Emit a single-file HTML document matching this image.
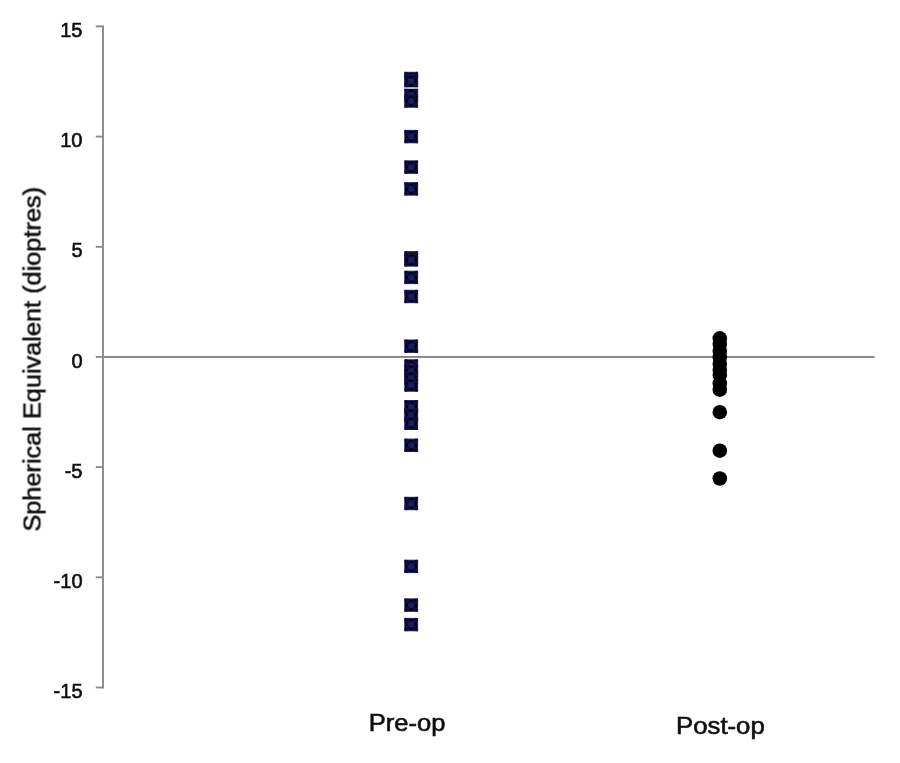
<!DOCTYPE html>
<html><head><meta charset="utf-8"><style>
html,body{margin:0;padding:0;background:#fff;}
body{width:900px;height:763px;overflow:hidden;}
svg{display:block;}
text{font-family:"Liberation Sans",sans-serif;fill:#111;stroke:#111;stroke-width:0.6px;}
</style></head><body>
<svg width="900" height="763" viewBox="0 0 900 763">
<defs>
<filter id="soft" x="-5%" y="-5%" width="110%" height="110%"><feGaussianBlur stdDeviation="0.4"/></filter>
<clipPath id="sqc"><rect x="-6.9" y="-6.7" width="13.8" height="13.4"/></clipPath>
</defs>

<rect width="900" height="763" fill="#fff"/><g filter="url(#soft)">
<g stroke="#8a8a8a" stroke-width="1.9" fill="none">
<line x1="103" y1="25.5" x2="103" y2="688.4"/>
<line x1="95.8" y1="26.4" x2="103" y2="26.4"/>
<line x1="95.8" y1="136.6" x2="103" y2="136.6"/>
<line x1="95.8" y1="246.8" x2="103" y2="246.8"/>
<line x1="95.8" y1="356.9" x2="103" y2="356.9"/>
<line x1="95.8" y1="467.1" x2="103" y2="467.1"/>
<line x1="95.8" y1="577.3" x2="103" y2="577.3"/>
<line x1="95.8" y1="687.5" x2="103" y2="687.5"/>
<line x1="103" y1="357" x2="874.5" y2="357"/>
</g>
<g font-size="20" text-anchor="end">
<text x="82.5" y="37.0">15</text>
<text x="82.5" y="147.2">10</text>
<text x="82.5" y="257.4">5</text>
<text x="82.5" y="367.5">0</text>
<text x="82.5" y="477.7">-5</text>
<text x="82.5" y="587.9">-10</text>
<text x="82.5" y="698.1">-15</text>
</g>
<text font-size="24" text-anchor="middle" transform="translate(40.5 359.3) rotate(-90) scale(1.055 1)">Spherical Equivalent (dioptres)</text>
<text font-size="24" text-anchor="middle" transform="translate(407 731) scale(1.065 1)">Pre-op</text>
<text font-size="24" text-anchor="middle" transform="translate(720.4 733.7) scale(1.073 1)">Post-op</text>
<g transform="translate(411.2 78.5)"><rect x="-6.4" y="-6.2" width="12.8" height="12.4" fill="#04040c" stroke="#1e1e68" stroke-width="1"/><path clip-path="url(#sqc)" d="M-6.4 -6.2 L6.4 6.2 M6.4 -6.2 L-6.4 6.2" stroke="#10103c" stroke-width="3.6"/><circle r="2.8" fill="#1e1e6a"/></g>
<g transform="translate(411.2 81.0)"><rect x="-6.4" y="-6.2" width="12.8" height="12.4" fill="#04040c" stroke="#1e1e68" stroke-width="1"/><path clip-path="url(#sqc)" d="M-6.4 -6.2 L6.4 6.2 M6.4 -6.2 L-6.4 6.2" stroke="#10103c" stroke-width="3.6"/><circle r="2.8" fill="#1e1e6a"/></g>
<g transform="translate(411.2 95.0)"><rect x="-6.4" y="-6.2" width="12.8" height="12.4" fill="#04040c" stroke="#1e1e68" stroke-width="1"/><path clip-path="url(#sqc)" d="M-6.4 -6.2 L6.4 6.2 M6.4 -6.2 L-6.4 6.2" stroke="#10103c" stroke-width="3.6"/><circle r="2.8" fill="#1e1e6a"/></g>
<g transform="translate(411.2 101.0)"><rect x="-6.4" y="-6.2" width="12.8" height="12.4" fill="#04040c" stroke="#1e1e68" stroke-width="1"/><path clip-path="url(#sqc)" d="M-6.4 -6.2 L6.4 6.2 M6.4 -6.2 L-6.4 6.2" stroke="#10103c" stroke-width="3.6"/><circle r="2.8" fill="#1e1e6a"/></g>
<g transform="translate(411.2 136.6)"><rect x="-6.4" y="-6.2" width="12.8" height="12.4" fill="#04040c" stroke="#1e1e68" stroke-width="1"/><path clip-path="url(#sqc)" d="M-6.4 -6.2 L6.4 6.2 M6.4 -6.2 L-6.4 6.2" stroke="#10103c" stroke-width="3.6"/><circle r="2.8" fill="#1e1e6a"/></g>
<g transform="translate(411.2 167.1)"><rect x="-6.4" y="-6.2" width="12.8" height="12.4" fill="#04040c" stroke="#1e1e68" stroke-width="1"/><path clip-path="url(#sqc)" d="M-6.4 -6.2 L6.4 6.2 M6.4 -6.2 L-6.4 6.2" stroke="#10103c" stroke-width="3.6"/><circle r="2.8" fill="#1e1e6a"/></g>
<g transform="translate(411.2 188.9)"><rect x="-6.4" y="-6.2" width="12.8" height="12.4" fill="#04040c" stroke="#1e1e68" stroke-width="1"/><path clip-path="url(#sqc)" d="M-6.4 -6.2 L6.4 6.2 M6.4 -6.2 L-6.4 6.2" stroke="#10103c" stroke-width="3.6"/><circle r="2.8" fill="#1e1e6a"/></g>
<g transform="translate(411.2 257.9)"><rect x="-6.4" y="-6.2" width="12.8" height="12.4" fill="#04040c" stroke="#1e1e68" stroke-width="1"/><path clip-path="url(#sqc)" d="M-6.4 -6.2 L6.4 6.2 M6.4 -6.2 L-6.4 6.2" stroke="#10103c" stroke-width="3.6"/><circle r="2.8" fill="#1e1e6a"/></g>
<g transform="translate(411.2 259.9)"><rect x="-6.4" y="-6.2" width="12.8" height="12.4" fill="#04040c" stroke="#1e1e68" stroke-width="1"/><path clip-path="url(#sqc)" d="M-6.4 -6.2 L6.4 6.2 M6.4 -6.2 L-6.4 6.2" stroke="#10103c" stroke-width="3.6"/><circle r="2.8" fill="#1e1e6a"/></g>
<g transform="translate(411.2 277.4)"><rect x="-6.4" y="-6.2" width="12.8" height="12.4" fill="#04040c" stroke="#1e1e68" stroke-width="1"/><path clip-path="url(#sqc)" d="M-6.4 -6.2 L6.4 6.2 M6.4 -6.2 L-6.4 6.2" stroke="#10103c" stroke-width="3.6"/><circle r="2.8" fill="#1e1e6a"/></g>
<g transform="translate(411.2 296.5)"><rect x="-6.4" y="-6.2" width="12.8" height="12.4" fill="#04040c" stroke="#1e1e68" stroke-width="1"/><path clip-path="url(#sqc)" d="M-6.4 -6.2 L6.4 6.2 M6.4 -6.2 L-6.4 6.2" stroke="#10103c" stroke-width="3.6"/><circle r="2.8" fill="#1e1e6a"/></g>
<g transform="translate(411.2 346.2)"><rect x="-6.4" y="-6.2" width="12.8" height="12.4" fill="#04040c" stroke="#1e1e68" stroke-width="1"/><path clip-path="url(#sqc)" d="M-6.4 -6.2 L6.4 6.2 M6.4 -6.2 L-6.4 6.2" stroke="#10103c" stroke-width="3.6"/><circle r="2.8" fill="#1e1e6a"/></g>
<g transform="translate(411.2 366.0)"><rect x="-6.4" y="-6.2" width="12.8" height="12.4" fill="#04040c" stroke="#1e1e68" stroke-width="1"/><path clip-path="url(#sqc)" d="M-6.4 -6.2 L6.4 6.2 M6.4 -6.2 L-6.4 6.2" stroke="#10103c" stroke-width="3.6"/><circle r="2.8" fill="#1e1e6a"/></g>
<g transform="translate(411.2 371.0)"><rect x="-6.4" y="-6.2" width="12.8" height="12.4" fill="#04040c" stroke="#1e1e68" stroke-width="1"/><path clip-path="url(#sqc)" d="M-6.4 -6.2 L6.4 6.2 M6.4 -6.2 L-6.4 6.2" stroke="#10103c" stroke-width="3.6"/><circle r="2.8" fill="#1e1e6a"/></g>
<g transform="translate(411.2 378.0)"><rect x="-6.4" y="-6.2" width="12.8" height="12.4" fill="#04040c" stroke="#1e1e68" stroke-width="1"/><path clip-path="url(#sqc)" d="M-6.4 -6.2 L6.4 6.2 M6.4 -6.2 L-6.4 6.2" stroke="#10103c" stroke-width="3.6"/><circle r="2.8" fill="#1e1e6a"/></g>
<g transform="translate(411.2 385.0)"><rect x="-6.4" y="-6.2" width="12.8" height="12.4" fill="#04040c" stroke="#1e1e68" stroke-width="1"/><path clip-path="url(#sqc)" d="M-6.4 -6.2 L6.4 6.2 M6.4 -6.2 L-6.4 6.2" stroke="#10103c" stroke-width="3.6"/><circle r="2.8" fill="#1e1e6a"/></g>
<g transform="translate(411.2 406.8)"><rect x="-6.4" y="-6.2" width="12.8" height="12.4" fill="#04040c" stroke="#1e1e68" stroke-width="1"/><path clip-path="url(#sqc)" d="M-6.4 -6.2 L6.4 6.2 M6.4 -6.2 L-6.4 6.2" stroke="#10103c" stroke-width="3.6"/><circle r="2.8" fill="#1e1e6a"/></g>
<g transform="translate(411.2 415.0)"><rect x="-6.4" y="-6.2" width="12.8" height="12.4" fill="#04040c" stroke="#1e1e68" stroke-width="1"/><path clip-path="url(#sqc)" d="M-6.4 -6.2 L6.4 6.2 M6.4 -6.2 L-6.4 6.2" stroke="#10103c" stroke-width="3.6"/><circle r="2.8" fill="#1e1e6a"/></g>
<g transform="translate(411.2 423.3)"><rect x="-6.4" y="-6.2" width="12.8" height="12.4" fill="#04040c" stroke="#1e1e68" stroke-width="1"/><path clip-path="url(#sqc)" d="M-6.4 -6.2 L6.4 6.2 M6.4 -6.2 L-6.4 6.2" stroke="#10103c" stroke-width="3.6"/><circle r="2.8" fill="#1e1e6a"/></g>
<g transform="translate(411.2 445.3)"><rect x="-6.4" y="-6.2" width="12.8" height="12.4" fill="#04040c" stroke="#1e1e68" stroke-width="1"/><path clip-path="url(#sqc)" d="M-6.4 -6.2 L6.4 6.2 M6.4 -6.2 L-6.4 6.2" stroke="#10103c" stroke-width="3.6"/><circle r="2.8" fill="#1e1e6a"/></g>
<g transform="translate(411.2 503.5)"><rect x="-6.4" y="-6.2" width="12.8" height="12.4" fill="#04040c" stroke="#1e1e68" stroke-width="1"/><path clip-path="url(#sqc)" d="M-6.4 -6.2 L6.4 6.2 M6.4 -6.2 L-6.4 6.2" stroke="#10103c" stroke-width="3.6"/><circle r="2.8" fill="#1e1e6a"/></g>
<g transform="translate(411.2 566.4)"><rect x="-6.4" y="-6.2" width="12.8" height="12.4" fill="#04040c" stroke="#1e1e68" stroke-width="1"/><path clip-path="url(#sqc)" d="M-6.4 -6.2 L6.4 6.2 M6.4 -6.2 L-6.4 6.2" stroke="#10103c" stroke-width="3.6"/><circle r="2.8" fill="#1e1e6a"/></g>
<g transform="translate(411.2 605.1)"><rect x="-6.4" y="-6.2" width="12.8" height="12.4" fill="#04040c" stroke="#1e1e68" stroke-width="1"/><path clip-path="url(#sqc)" d="M-6.4 -6.2 L6.4 6.2 M6.4 -6.2 L-6.4 6.2" stroke="#10103c" stroke-width="3.6"/><circle r="2.8" fill="#1e1e6a"/></g>
<g transform="translate(411.2 624.6)"><rect x="-6.4" y="-6.2" width="12.8" height="12.4" fill="#04040c" stroke="#1e1e68" stroke-width="1"/><path clip-path="url(#sqc)" d="M-6.4 -6.2 L6.4 6.2 M6.4 -6.2 L-6.4 6.2" stroke="#10103c" stroke-width="3.6"/><circle r="2.8" fill="#1e1e6a"/></g>
<rect x="404.5" y="87.5" width="13.5" height="1.1" fill="#fff"/>
<g fill="#000">
<circle cx="719.8" cy="338.3" r="7.3"/>
<circle cx="719.8" cy="344.0" r="7.3"/>
<circle cx="719.8" cy="351.0" r="7.3"/>
<circle cx="719.8" cy="357.5" r="7.3"/>
<circle cx="719.8" cy="364.0" r="7.3"/>
<circle cx="719.8" cy="370.0" r="7.3"/>
<circle cx="719.8" cy="375.0" r="7.3"/>
<circle cx="719.8" cy="383.5" r="7.3"/>
<circle cx="719.8" cy="389.7" r="7.3"/>
<circle cx="719.8" cy="412.2" r="7.3"/>
<circle cx="719.8" cy="450.7" r="7.3"/>
<circle cx="719.8" cy="478.5" r="7.3"/>
</g>
</g>
</svg></body></html>
